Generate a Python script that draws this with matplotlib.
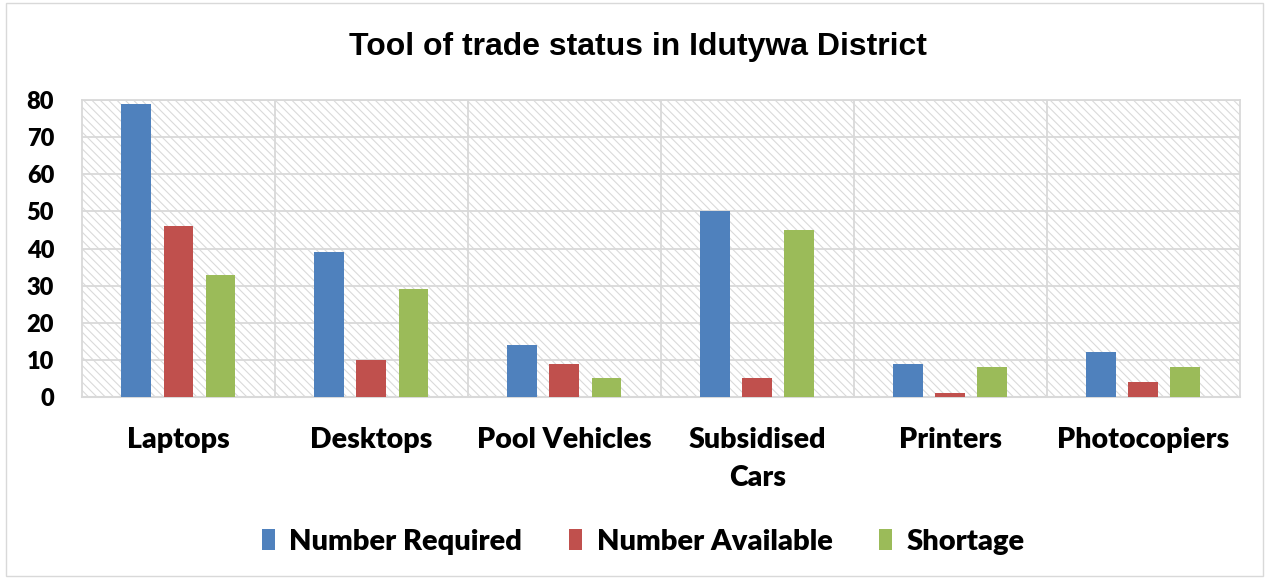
import numpy as np
import matplotlib.pyplot as plt
from matplotlib.patches import Rectangle

# --- Data ---
categories = ["Laptops", "Desktops", "Pool Vehicles", "Subsidised\nCars", "Printers", "Photocopiers"]
number_required = [79, 39, 14, 50, 9, 12]
number_available = [46, 10, 9, 5, 1, 4]
shortage = [33, 29, 5, 45, 8, 8]
series_names = ["Number Required", "Number Available", "Shortage"]
colors = ["#4F81BD", "#C0504D", "#9BBB59"]

label_font = "Lato"
label_weight = "heavy"

plt.rcParams['hatch.linewidth'] = 0.8

fig = plt.figure(figsize=(12.69, 5.79), dpi=100)
ax = fig.add_axes([0.0646, 0.3143, 0.9124, 0.5127])

# outer chart border
fig.patches.append(Rectangle((0.005, 0.005), 0.99, 0.99, transform=fig.transFigure,
                             fill=False, edgecolor="#D9D9D9", linewidth=1))

x = np.arange(len(categories))
width = 0.155
offset = 0.218
for i, (vals, name, col) in enumerate(zip([number_required, number_available, shortage], series_names, colors)):
    ax.bar(x + (i - 1) * offset, vals, width, color=col, label=name, zorder=3)

# hatched background
ax.add_patch(Rectangle((0, 0), 1, 1, transform=ax.transAxes, facecolor="white",
                       hatch="\\\\\\\\", edgecolor="#DADADA", linewidth=0, zorder=0))

ax.set_xlim(-0.5, len(categories) - 0.5)
ax.set_ylim(0, 80)
ax.set_yticks(range(0, 81, 10))
ax.set_xticks(x)
ax.set_xticklabels(categories, fontsize=20.5, fontweight=label_weight, fontfamily=label_font,
                   linespacing=1.6, va="top")
ax.tick_params(axis="y", labelsize=17, length=0, pad=20)
ax.tick_params(axis="x", length=0, pad=21.5)
for lab in ax.get_yticklabels():
    lab.set_fontweight(label_weight)
    lab.set_fontfamily(label_font)

# grid
for yv in range(10, 81, 10):
    ax.axhline(yv, color="#D9D9D9", linewidth=1.3, zorder=1)
for xv in np.arange(0.5, len(categories) - 0.5, 1):
    ax.axvline(xv, color="#D9D9D9", linewidth=1.3, zorder=1)
for side in ["top", "right", "left"]:
    ax.spines[side].set_color("#D9D9D9")
    ax.spines[side].set_linewidth(1.3)
ax.spines["bottom"].set_color("#D9D9D9")
ax.spines["bottom"].set_linewidth(1.5)

fig.text(0.503, 0.918, "Tool of trade status in Idutywa District", ha="center", va="center",
         fontsize=23, fontweight="bold", fontfamily="Liberation Sans")

leg = fig.legend(loc="center", bbox_to_anchor=(0.507, 0.064), ncol=3, frameon=False,
                 prop={"family": label_font, "weight": label_weight, "size": 21},
                 handlelength=0.45, handleheight=0.75, handletextpad=0.5, columnspacing=1.6)

fig.savefig("out.png", dpi=100)
